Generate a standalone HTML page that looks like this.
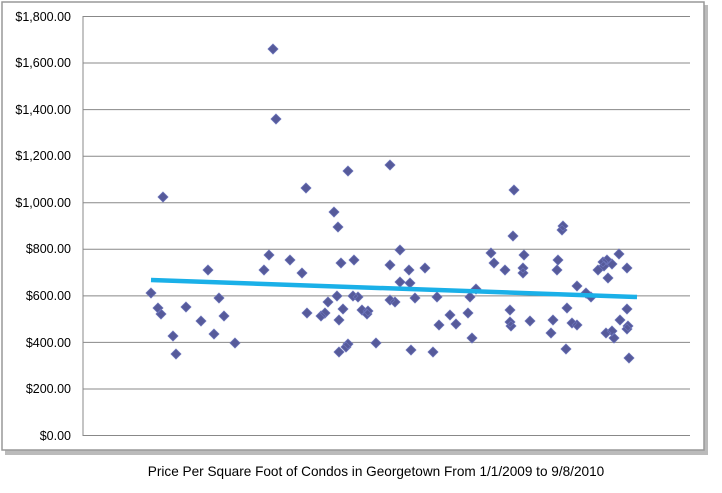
<!DOCTYPE html>
<html><head><style>
body{margin:0;background:#fff;width:722px;height:488px;overflow:hidden}
</style></head><body>
<svg width="722" height="488" xmlns="http://www.w3.org/2000/svg" font-family="Liberation Sans, sans-serif">
<rect x="5" y="5" width="703" height="450" fill="#bbb"/>
<rect x="2" y="2" width="702" height="448" fill="#fff" stroke="#999" stroke-width="1.5"/>
<g stroke="#888" stroke-width="1">
<line x1="83" y1="16.5" x2="690" y2="16.5"/>
<line x1="83" y1="63" x2="690" y2="63"/>
<line x1="83" y1="109.6" x2="690" y2="109.6"/>
<line x1="83" y1="156.2" x2="690" y2="156.2"/>
<line x1="83" y1="202.7" x2="690" y2="202.7"/>
<line x1="83" y1="249.3" x2="690" y2="249.3"/>
<line x1="83" y1="295.9" x2="690" y2="295.9"/>
<line x1="83" y1="342.4" x2="690" y2="342.4"/>
<line x1="83" y1="389" x2="690" y2="389"/>
<line x1="83" y1="435.5" x2="690" y2="435.5"/>
<line x1="83" y1="16" x2="83" y2="436"/>
</g>
<g font-size="12.5" fill="#000" text-anchor="end">
<text x="71" y="21">$1,800.00</text>
<text x="71" y="67">$1,600.00</text>
<text x="71" y="114">$1,400.00</text>
<text x="71" y="160">$1,200.00</text>
<text x="71" y="207">$1,000.00</text>
<text x="71" y="253">$800.00</text>
<text x="71" y="300">$600.00</text>
<text x="71" y="347">$400.00</text>
<text x="71" y="393">$200.00</text>
<text x="71" y="440">$0.00</text>
</g>
<path fill="#565a9a" stroke="#6a72b8" stroke-width="0.8" d="
M151,288l5 5-5 5-5-5z M163,192l5 5-5 5-5-5z M161,309l5 5-5 5-5-5z M158,303l5 5-5 5-5-5z M173,331l5 5-5 5-5-5z
M176,349l5 5-5 5-5-5z M186,302l5 5-5 5-5-5z M201,316l5 5-5 5-5-5z M208,265l5 5-5 5-5-5z M214,329l5 5-5 5-5-5z
M219,293l5 5-5 5-5-5z M224,311l5 5-5 5-5-5z M235,338l5 5-5 5-5-5z M273,44l5 5-5 5-5-5z M276,114l5 5-5 5-5-5z
M264,265l5 5-5 5-5-5z M269,250l5 5-5 5-5-5z M290,255l5 5-5 5-5-5z M302,268l5 5-5 5-5-5z M306,183l5 5-5 5-5-5z
M307,308l5 5-5 5-5-5z M321,311l5 5-5 5-5-5z M325,308l5 5-5 5-5-5z M328,297l5 5-5 5-5-5z M334,207l5 5-5 5-5-5z
M338,222l5 5-5 5-5-5z M337,291l5 5-5 5-5-5z M339,315l5 5-5 5-5-5z M341,258l5 5-5 5-5-5z M343,304l5 5-5 5-5-5z
M348,166l5 5-5 5-5-5z M346,342l5 5-5 5-5-5z M348,339l5 5-5 5-5-5z M339,347l5 5-5 5-5-5z M354,255l5 5-5 5-5-5z
M353,291l5 5-5 5-5-5z M358,292l5 5-5 5-5-5z M362,305l5 5-5 5-5-5z M367,309l5 5-5 5-5-5z M368,306l5 5-5 5-5-5z
M376,338l5 5-5 5-5-5z M390,160l5 5-5 5-5-5z M390,260l5 5-5 5-5-5z M390,295l5 5-5 5-5-5z M395,297l5 5-5 5-5-5z
M400,245l5 5-5 5-5-5z M400,277l5 5-5 5-5-5z M409,265l5 5-5 5-5-5z M410,278l5 5-5 5-5-5z M411,345l5 5-5 5-5-5z
M415,293l5 5-5 5-5-5z M425,263l5 5-5 5-5-5z M433,347l5 5-5 5-5-5z M437,292l5 5-5 5-5-5z M439,320l5 5-5 5-5-5z
M450,310l5 5-5 5-5-5z M456,319l5 5-5 5-5-5z M468,308l5 5-5 5-5-5z M470,292l5 5-5 5-5-5z M472,333l5 5-5 5-5-5z
M476,284l5 5-5 5-5-5z M491,248l5 5-5 5-5-5z M494,258l5 5-5 5-5-5z M505,265l5 5-5 5-5-5z M514,185l5 5-5 5-5-5z
M513,231l5 5-5 5-5-5z M510,305l5 5-5 5-5-5z M511,321l5 5-5 5-5-5z M510,317l5 5-5 5-5-5z M524,250l5 5-5 5-5-5z
M523,263l5 5-5 5-5-5z M523,268l5 5-5 5-5-5z M530,316l5 5-5 5-5-5z M551,328l5 5-5 5-5-5z M553,315l5 5-5 5-5-5z
M557,265l5 5-5 5-5-5z M558,255l5 5-5 5-5-5z M562,225l5 5-5 5-5-5z M563,221l5 5-5 5-5-5z M567,303l5 5-5 5-5-5z
M566,344l5 5-5 5-5-5z M577,281l5 5-5 5-5-5z M572,318l5 5-5 5-5-5z M577,320l5 5-5 5-5-5z M586,288l5 5-5 5-5-5z
M591,292l5 5-5 5-5-5z M598,265l5 5-5 5-5-5z M603,257l5 5-5 5-5-5z M604,261l5 5-5 5-5-5z M607,255l5 5-5 5-5-5z
M612,259l5 5-5 5-5-5z M612,326l5 5-5 5-5-5z M606,328l5 5-5 5-5-5z M608,273l5 5-5 5-5-5z M614,333l5 5-5 5-5-5z
M619,249l5 5-5 5-5-5z M620,315l5 5-5 5-5-5z M627,263l5 5-5 5-5-5z M627,304l5 5-5 5-5-5z M627,324l5 5-5 5-5-5z
M628,321l5 5-5 5-5-5z M629,353l5 5-5 5-5-5z"/>
<line x1="151" y1="280" x2="637" y2="297" stroke="#1ab0e8" stroke-width="4.5"/>
<text x="376" y="476" font-size="13.6" text-anchor="middle">Price Per Square Foot of Condos in Georgetown From 1/1/2009 to 9/8/2010</text>
</svg>
</body></html>
